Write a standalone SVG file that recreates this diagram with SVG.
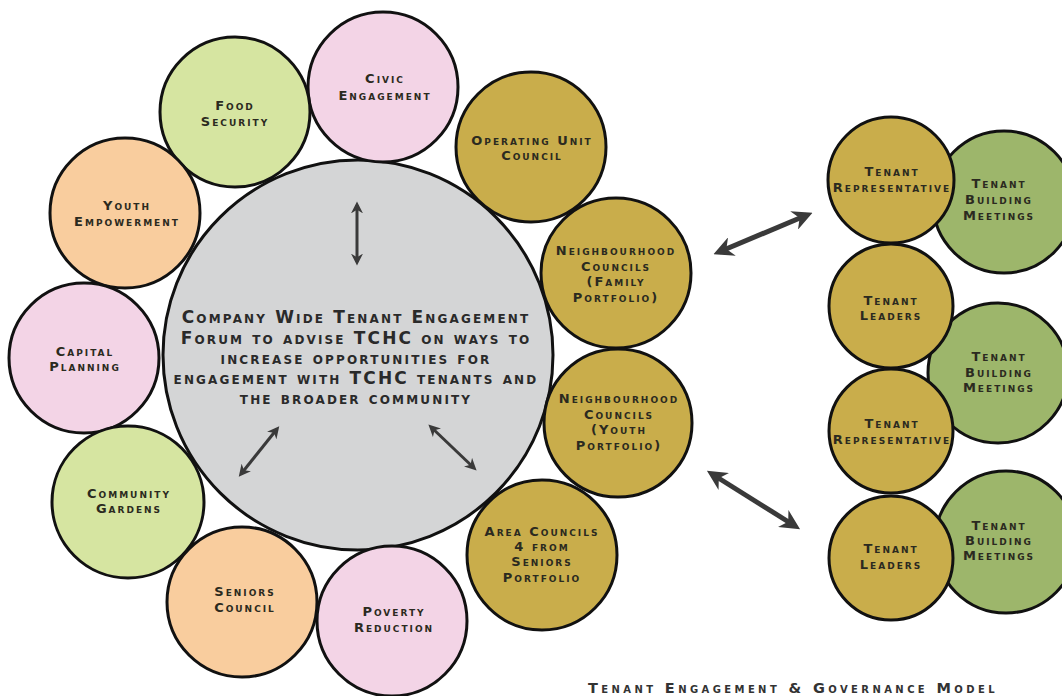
<svg xmlns="http://www.w3.org/2000/svg" width="1062" height="696" viewBox="0 0 1062 696">
<style>
.c{stroke:#111;stroke-width:3}
.gray{fill:#d4d5d6}
.pink{fill:#f3d4e6}
.lgreen{fill:#d6e5a1}
.orange{fill:#f9cd9e}
.gold{fill:#c9ad4b}
.dgreen{fill:#9db66b}
text{font-family:"DejaVu Sans","Liberation Sans",Arial,sans-serif;font-weight:bold;font-variant:small-caps;fill:#2b2a20;text-anchor:middle}
.t{font-size:13px;letter-spacing:2px}
.m{font-size:17px;letter-spacing:2.15px;fill:#2a2a2a}
.cap{font-size:14.5px;letter-spacing:3.4px;fill:#333;text-anchor:start}
.a{stroke:#3a3a3a;fill:none;marker-start:url(#ah);marker-end:url(#ah)}
</style>
<defs>
<marker id="ah" viewBox="0 0 10 10" refX="7" refY="5" markerWidth="4" markerHeight="4" orient="auto-start-reverse">
<path d="M0,0 L10,5 L0,10 L3,5 z" fill="#3a3a3a"/>
</marker>
</defs>
<rect width="1062" height="696" fill="#fff"/>

<g id="forum"><circle class="c gray" cx="358" cy="355" r="195"/>
<text class="m"><tspan x="356" y="323">Company Wide Tenant Engagement</tspan><tspan x="356" y="344">Forum to advise TCHC on ways to</tspan><tspan x="356" y="364">increase opportunities for</tspan><tspan x="356" y="384">engagement with TCHC tenants and</tspan><tspan x="356" y="404">the broader community</tspan></text></g>

<g id="civic"><circle class="c pink" cx="383" cy="87" r="75"/><text class="t"><tspan x="385" y="83">Civic</tspan><tspan x="385" y="100">Engagement</tspan></text></g>
<g id="food"><circle class="c lgreen" cx="235" cy="112" r="75"/><text class="t"><tspan x="235" y="110">Food</tspan><tspan x="235" y="126">Security</tspan></text></g>
<g id="youth"><circle class="c orange" cx="125" cy="213" r="75"/><text class="t"><tspan x="127" y="210">Youth</tspan><tspan x="127" y="226">Empowerment</tspan></text></g>
<g id="capital"><circle class="c pink" cx="84" cy="358" r="75"/><text class="t"><tspan x="85" y="356">Capital</tspan><tspan x="85" y="371">Planning</tspan></text></g>
<g id="gardens"><circle class="c lgreen" cx="128" cy="502" r="76"/><text class="t"><tspan x="129" y="498">Community</tspan><tspan x="129" y="513">Gardens</tspan></text></g>
<g id="seniors"><circle class="c orange" cx="242" cy="602" r="75"/><text class="t"><tspan x="245" y="596">Seniors</tspan><tspan x="245" y="612">Council</tspan></text></g>
<g id="poverty"><circle class="c pink" cx="392" cy="621" r="75"/><text class="t"><tspan x="394" y="616">Poverty</tspan><tspan x="394" y="632">Reduction</tspan></text></g>

<g id="opunit"><circle class="c gold" cx="531" cy="147" r="75"/><text class="t"><tspan x="532" y="145">Operating Unit</tspan><tspan x="532" y="160">Council</tspan></text></g>
<g id="nfamily"><circle class="c gold" cx="616" cy="273" r="75"/><text class="t"><tspan x="616" y="255">Neighbourhood</tspan><tspan x="616" y="271">Councils</tspan><tspan x="616" y="286">(Family</tspan><tspan x="616" y="302">Portfolio)</tspan></text></g>
<g id="nyouth"><circle class="c gold" cx="618" cy="423" r="74"/><text class="t"><tspan x="619" y="403">Neighbourhood</tspan><tspan x="619" y="419">Councils</tspan><tspan x="619" y="434">(Youth</tspan><tspan x="619" y="450">Portfolio)</tspan></text></g>
<g id="area"><circle class="c gold" cx="542" cy="555" r="75"/><text class="t"><tspan x="542" y="536">Area Councils</tspan><tspan x="542" y="551">4 from</tspan><tspan x="542" y="566">Seniors</tspan><tspan x="542" y="582">Portfolio</tspan></text></g>

<g id="meet1"><circle class="c dgreen" cx="1004" cy="202" r="71"/><text class="t"><tspan x="999" y="188">Tenant</tspan><tspan x="999" y="204">Building</tspan><tspan x="999" y="220">Meetings</tspan></text></g>
<g id="meet2"><circle class="c dgreen" cx="998" cy="373" r="70"/><text class="t"><tspan x="999" y="361">Tenant</tspan><tspan x="999" y="377">Building</tspan><tspan x="999" y="392">Meetings</tspan></text></g>
<g id="meet3"><circle class="c dgreen" cx="1006" cy="542" r="71"/><text class="t"><tspan x="999" y="530">Tenant</tspan><tspan x="999" y="545">Building</tspan><tspan x="999" y="560">Meetings</tspan></text></g>

<g id="rep1"><circle class="c gold" cx="891" cy="180" r="63"/><text class="t"><tspan x="892" y="176">Tenant</tspan><tspan x="892" y="192">Representative</tspan></text></g>
<g id="lead1"><circle class="c gold" cx="891" cy="306" r="62"/><text class="t"><tspan x="891" y="305">Tenant</tspan><tspan x="891" y="320">Leaders</tspan></text></g>
<g id="rep2"><circle class="c gold" cx="891" cy="431" r="62"/><text class="t"><tspan x="892" y="428">Tenant</tspan><tspan x="892" y="444">Representative</tspan></text></g>
<g id="lead2"><circle class="c gold" cx="891" cy="558" r="62"/><text class="t"><tspan x="891" y="553">Tenant</tspan><tspan x="891" y="569">Leaders</tspan></text></g>

<g id="connectors">
<line class="a" x1="357" y1="205" x2="357" y2="262" stroke-width="3"/>
<line class="a" x1="277" y1="429" x2="241" y2="474" stroke-width="3"/>
<line class="a" x1="431" y1="427" x2="474" y2="468" stroke-width="3"/>
<line class="a" x1="719" y1="252" x2="807" y2="215" stroke-width="5"/>
<line class="a" x1="712" y1="474" x2="795" y2="526" stroke-width="5"/>
</g>

<text class="cap" x="588" y="693">Tenant Engagement &amp; Governance Model</text>
</svg>
